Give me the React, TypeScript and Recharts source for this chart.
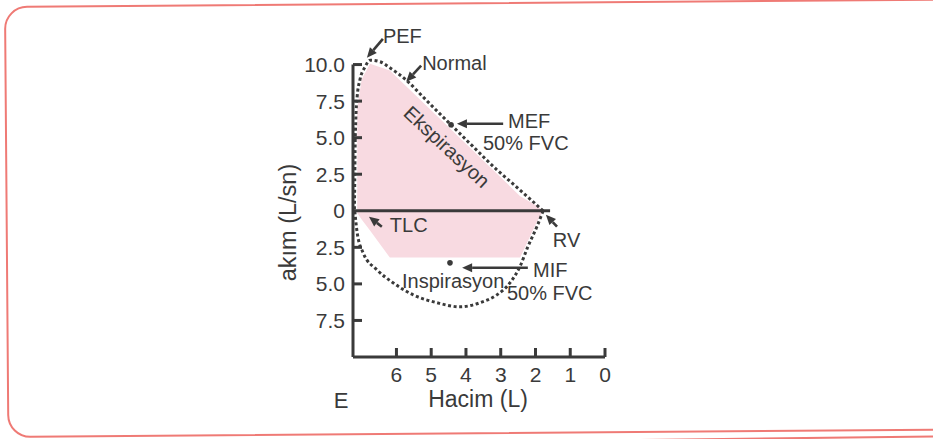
import React from 'react';
import {
  ComposedChart, Area, Line, Scatter, XAxis, YAxis,
  ReferenceLine, ReferenceDot
} from 'recharts';

const INK = '#3a3a3a';
const FONT = "'Liberation Sans', Arial, Helvetica, sans-serif";

// volume axis (L), drawn right-to-left
const xTicks = [6, 5, 4, 3, 2, 1, 0];
// flow axis (L/sn), inspiratory flow below zero
const yTicks = [10, 7.5, 5, 2.5, 0, -2.5, -5, -7.5];

// normal loop, expiratory part
const expVol = [1.78, 2.2, 2.7, 3.11, 3.8, 4.43, 4.75, 5.24, 5.7, 6.19, 6.47, 6.76, 6.9, 7.05, 7.13, 7.17, 7.19, 7.2, 7.21];
const expFlow = [0, 0.9, 1.95, 2.8, 4.4, 5.88, 6.63, 7.8, 8.9, 9.78, 10.19, 10.3, 9.85, 8.96, 7.8, 6.2, 4.2, 2.0, 0];

// normal loop, inspiratory part
const insVol = [1.78, 1.96, 2.22, 2.45, 2.73, 3.11, 3.6, 4.17, 4.83, 5.52, 6.1, 6.56, 6.96, 7.13, 7.2];
const insFlow = [0, -1.09, -2.46, -3.83, -4.92, -5.75, -6.29, -6.57, -6.29, -5.75, -4.92, -4.04, -2.87, -1.5, 0];

// shaded loop
const shadeVol = [1.78, 1.96, 2.44, 6.19, 6.76, 7.0, 7.13];
const shadeLow = [0, -0.75, -3.2, -3.2, -1.35, -0.6, -0.15];
const shadeHigh = [0, 0.35, 1.0, 9.6, 10.05, 9.0, 7.0];

// MEF / MIF at 50% FVC
const markVol = [4.43, 4.46];
const markFlow = [5.88, -3.56];

const notes = [
  { text: 'PEF', v: 6.39, f: 11.49 },
  { text: 'Normal', v: 5.26, f: 9.64 },
  { text: 'MEF', v: 2.79, f: 5.68 },
  { text: '50% FVC', v: 3.51, f: 4.17 },
  { text: 'TLC', v: 6.19, f: -1.44 },
  { text: 'RV', v: 1.5, f: -2.46 },
  { text: 'MIF', v: 2.07, f: -4.51 },
  { text: '50% FVC', v: 2.82, f: -6.09 },
  { text: 'Inspirasyon', v: 5.84, f: -5.27 },
];

const arrows = [
  { from: [6.39, 11.76], to: [6.85, 10.47] },
  { from: [5.29, 9.92], to: [5.72, 8.82] },
  { from: [2.93, 5.95], to: [4.26, 5.95] },
  { from: [6.42, -1.09], to: [6.79, -0.41] },
  { from: [1.38, -1.09], to: [1.7, -0.27] },
  { from: [2.22, -3.9], to: [4.11, -3.9] },
];

const expData = expVol.map((v, i) => ({ v, f: expFlow[i] }));
const insData = insVol.map((v, i) => ({ v, f: insFlow[i] }));
const shadeData = shadeVol.map((v, i) => ({ v, range: [shadeLow[i], shadeHigh[i]] }));
const markData = markVol.map((v, i) => ({ v, f: markFlow[i] }));

const fmtFlow = (n: number) => (n === 0 ? '0' : Math.abs(n).toFixed(1));

const YTick = (props: any) => {
  const { x, y, payload } = props;
  return (
    <g>
      {payload.value !== 0 && (
        <line x1={x} x2={x + 9} y1={y} y2={y} stroke={INK} strokeWidth={3} />
      )}
      <text x={x - 8} y={y} dy="0.36em" textAnchor="end" fontSize={21} fontFamily={FONT} fill={INK}>
        {fmtFlow(payload.value)}
      </text>
    </g>
  );
};

const XTick = (props: any) => {
  const { x, y, payload } = props;
  return (
    <g>
      <line x1={x} x2={x} y1={y} y2={y - 9} stroke={INK} strokeWidth={3} />
      <text x={x} y={y + 25} textAnchor="middle" fontSize={21} fontFamily={FONT} fill={INK}>
        {payload.value}
      </text>
    </g>
  );
};

const XTitle = (props: any) => {
  const vb = props.viewBox || { x: 353, y: 357, width: 252 };
  return (
    <g fontFamily={FONT} fill={INK}>
      <text x={vb.x - 12} y={vb.y + 51} textAnchor="middle" fontSize={22}>E</text>
      <text x={vb.x + vb.width / 2 - 1} y={vb.y + 50} textAnchor="middle" fontSize={23}>Hacim (L)</text>
    </g>
  );
};

const YTitle = (props: any) => {
  const vb = props.viewBox || { x: 293, y: 28, width: 60, height: 329 };
  const cx = vb.x - 5;
  const cy = vb.y + vb.height / 2 + 30;
  return (
    <text
      x={cx} y={cy} transform={`rotate(-90 ${cx} ${cy})`}
      textAnchor="middle" dominantBaseline="central"
      fontSize={23.5} fontFamily={FONT} fill={INK}
    >
      akım (L/sn)
    </text>
  );
};

const Arrow = (p: any) => {
  const { x1, y1, x2, y2 } = p;
  const a = Math.atan2(y2 - y1, x2 - x1);
  const len = 10;
  const w = 4.5;
  const bx = x2 - len * Math.cos(a);
  const by = y2 - len * Math.sin(a);
  const pts = `${x2},${y2} ${bx - w * Math.sin(a)},${by + w * Math.cos(a)} ${bx + w * Math.sin(a)},${by - w * Math.cos(a)}`;
  return (
    <g>
      <line x1={x1} y1={y1} x2={bx} y2={by} stroke={INK} strokeWidth={2.6} />
      <polygon points={pts} fill={INK} />
    </g>
  );
};

const noteShape = (text: string) => (p: any) => (
  <text x={p.cx} y={p.cy} fontSize={20} fontFamily={FONT} fill={INK}>{text}</text>
);

const expLabel = (p: any) => (
  <text
    x={p.cx} y={p.cy} transform={`rotate(43 ${p.cx} ${p.cy})`}
    textAnchor="middle" dominantBaseline="central"
    fontSize={20} fontFamily={FONT} fill={INK}
  >
    Ekspirasyon
  </text>
);

const markShape = (p: any) => <circle cx={p.cx} cy={p.cy} r={2.8} fill={INK} />;

const FlowVolumeLoop: React.FC = () => (
  <ComposedChart width={933} height={439} margin={{ top: 28, right: 328, bottom: 52, left: 293 }}>
    <XAxis
      type="number" dataKey="v" domain={[0, 7.25]} reversed allowDataOverflow
      ticks={xTicks} interval={0} axisLine={false} tickLine={false}
      tickSize={0} tickMargin={0} height={30} tick={<XTick />}
      label={{ content: XTitle }}
    />
    <YAxis
      type="number" dataKey="f" domain={[-10, 12.5]} allowDataOverflow
      ticks={yTicks} interval={0} axisLine={false} tickLine={false}
      tickSize={0} tickMargin={0} width={60} tick={<YTick />}
      label={{ content: YTitle }}
    />
    <Area
      data={shadeData} dataKey="range" type="linear"
      fill="#f8dae1" fillOpacity={1} stroke="none" isAnimationActive={false}
    />
    <Line
      data={expData} dataKey="f" type="monotone" stroke={INK} strokeWidth={3}
      strokeDasharray="3 2.6" dot={false} isAnimationActive={false}
    />
    <Line
      data={insData} dataKey="f" type="monotone" stroke={INK} strokeWidth={3}
      strokeDasharray="3 2.6" dot={false} isAnimationActive={false}
    />
    {/* zero flow line and axis lines */}
    <ReferenceLine segment={[{ x: 7.25, y: 0 }, { x: 1.58, y: 0 }]} stroke={INK} strokeWidth={3} />
    <ReferenceLine segment={[{ x: 7.25, y: -10 }, { x: 7.25, y: 10 }]} stroke={INK} strokeWidth={3} />
    <ReferenceLine segment={[{ x: 7.25, y: -10 }, { x: 0, y: -10 }]} stroke={INK} strokeWidth={3} />
    <Scatter data={markData} shape={markShape} isAnimationActive={false} />
    {arrows.map((a, i) => (
      <ReferenceLine
        key={'a' + i}
        segment={[{ x: a.from[0], y: a.from[1] }, { x: a.to[0], y: a.to[1] }]}
        shape={Arrow}
      />
    ))}
    {notes.map((n, i) => (
      <ReferenceDot key={'n' + i} x={n.v} y={n.f} r={1} ifOverflow="visible" shape={noteShape(n.text)} />
    ))}
    <ReferenceDot x={4.55} y={4.38} r={1} ifOverflow="visible" shape={expLabel} />
  </ComposedChart>
);

export default function App() {
  return (
    <div style={{ position: 'absolute', left: 0, top: 0, width: 933, height: 439, background: '#fff', overflow: 'hidden' }}>
      <svg width={933} height={439} style={{ position: 'absolute', left: 0, top: 0 }}>
        <g transform="rotate(-0.45 5 7)">
          <rect x={5} y={7} width={960} height={430} rx={22} fill="none" stroke="#ef7a75" strokeWidth={2} />
        </g>
        <line x1={640} y1={440} x2={933} y2={436.5} stroke="#ef7a75" strokeWidth={2} />
      </svg>
      <div style={{ position: 'absolute', left: 0, top: 0 }}>
        <FlowVolumeLoop />
      </div>
    </div>
  );
}
